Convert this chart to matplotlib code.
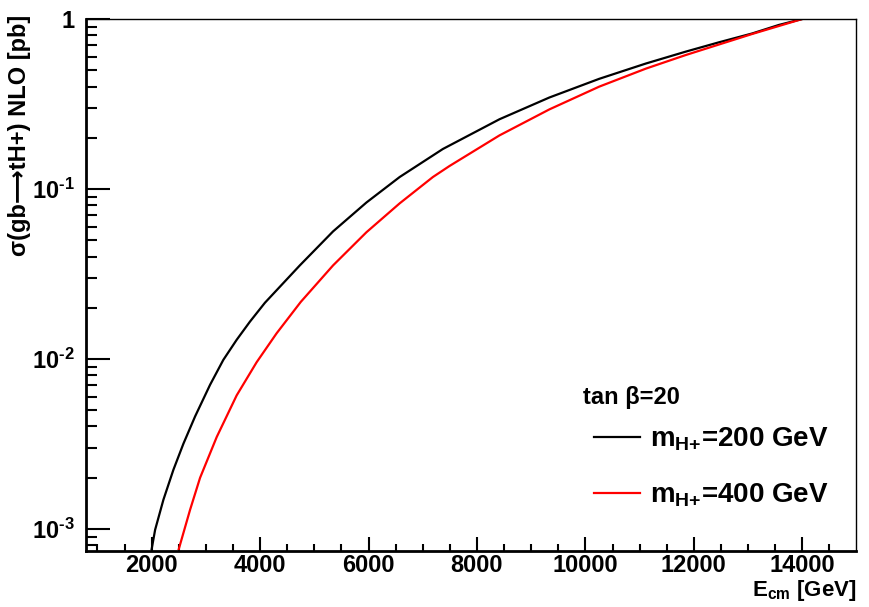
import numpy as np
import matplotlib
matplotlib.use("Agg")
from matplotlib import pyplot as plt, ticker

plt.rcParams['font.family'] = ['Liberation Sans', 'DejaVu Sans']
plt.rcParams['font.weight'] = 'bold'
plt.rcParams['mathtext.fontset'] = 'custom'
plt.rcParams['mathtext.rm'] = 'Liberation Sans:bold'
plt.rcParams['mathtext.bf'] = 'Liberation Sans:bold'
plt.rcParams['mathtext.it'] = 'Liberation Sans:bold'
plt.rcParams['mathtext.default'] = 'bf'

# sigma(gb->tH+) NLO vs E_cm (log10 of pb)
e_200 = [2000, 2064, 2217, 2401, 2585, 2801, 3077, 3322, 3568, 3813, 4089, 4733, 5346,
         5961, 6574, 7371, 8415, 9335, 10255, 11115, 11851, 12464, 13077, 13568, 14000]
lg_200 = [-3.12, -3.006, -2.829, -2.653, -2.50, -2.339, -2.153, -2.006, -1.888, -1.781,
          -1.67, -1.45, -1.25, -1.08, -0.93, -0.765, -0.59, -0.462, -0.352, -0.262,
          -0.192, -0.137, -0.085, -0.035, 0.0]

e_400 = [2500, 2709, 2893, 3200, 3568, 3936, 4304, 4750, 5346, 5961, 6574, 7187, 7494,
         8415, 9335, 10255, 11115, 11851, 12464, 13077, 14000]
lg_400 = [-3.12, -2.888, -2.70, -2.46, -2.215, -2.02, -1.85, -1.665, -1.45, -1.255,
          -1.085, -0.93, -0.865, -0.685, -0.532, -0.398, -0.292, -0.212, -0.15, -0.088, 0.0]

labels = [r'm$_{H{+}}$=200 GeV', r'm$_{H{+}}$=400 GeV']
colours = ['black', 'red']

fig = plt.figure(figsize=(8.7, 6.07), dpi=100)
ax = fig.add_axes([0.0989, 0.0923, 0.885, 0.8764])

ax.plot(e_200, 10 ** np.array(lg_200), color=colours[0], lw=1.6, label=labels[0])
ax.plot(e_400, 10 ** np.array(lg_400), color=colours[1], lw=1.6, label=labels[1])

ax.set_yscale('log')
ax.set_xlim(790, 14990)
ax.set_ylim(7.4e-4, 1.0)

ax.xaxis.set_major_locator(ticker.MultipleLocator(2000))
ax.xaxis.set_minor_locator(ticker.MultipleLocator(500))
ax.xaxis.set_major_formatter(ticker.FuncFormatter(lambda v, p: '%d' % v))

def yfmt(v, p):
    if abs(v - 1) < 1e-9:
        return '1'
    return r'$10^{\text{-}%d}$' % abs(int(round(np.log10(v))))

ax.yaxis.set_major_locator(ticker.LogLocator(base=10))
ax.yaxis.set_minor_locator(ticker.LogLocator(base=10, subs=np.arange(2, 10)))
ax.yaxis.set_major_formatter(ticker.FuncFormatter(yfmt))
ax.yaxis.set_minor_formatter(ticker.NullFormatter())

ax.tick_params(axis='both', which='both', direction='in', top=False, right=False,
               labelsize=17, width=1.5)
ax.tick_params(axis='y', which='major', length=17, pad=8)
ax.tick_params(axis='y', which='minor', length=8)
ax.tick_params(axis='x', which='major', length=10, pad=2)
ax.tick_params(axis='x', which='minor', length=5)

for s in ['left', 'bottom']:
    ax.spines[s].set_linewidth(2)
for s in ['top', 'right']:
    ax.spines[s].set_linewidth(1)

ax.set_ylabel(u'σ(gb⟶tH+) NLO [pb]', loc='top', fontsize=17, fontweight='bold')
ax.yaxis.set_label_coords(-0.072, 1.0075)
ax.set_xlabel(r'E$_{cm}$ [GeV]', loc='right', fontsize=16, fontweight='bold')
ax.xaxis.set_label_coords(1.0, -0.05)

ax.text(0.646, 0.289, u'tan β=20', transform=ax.transAxes, fontsize=17,
        fontweight='bold', va='center', ha='left')
leg = ax.legend(loc='upper left', bbox_to_anchor=(0.66, 0.235), frameon=False,
                fontsize=20, handlelength=1.65, handletextpad=0.36, labelspacing=1.0,
                borderaxespad=0, borderpad=0)

fig.savefig('out.png', dpi=100)
